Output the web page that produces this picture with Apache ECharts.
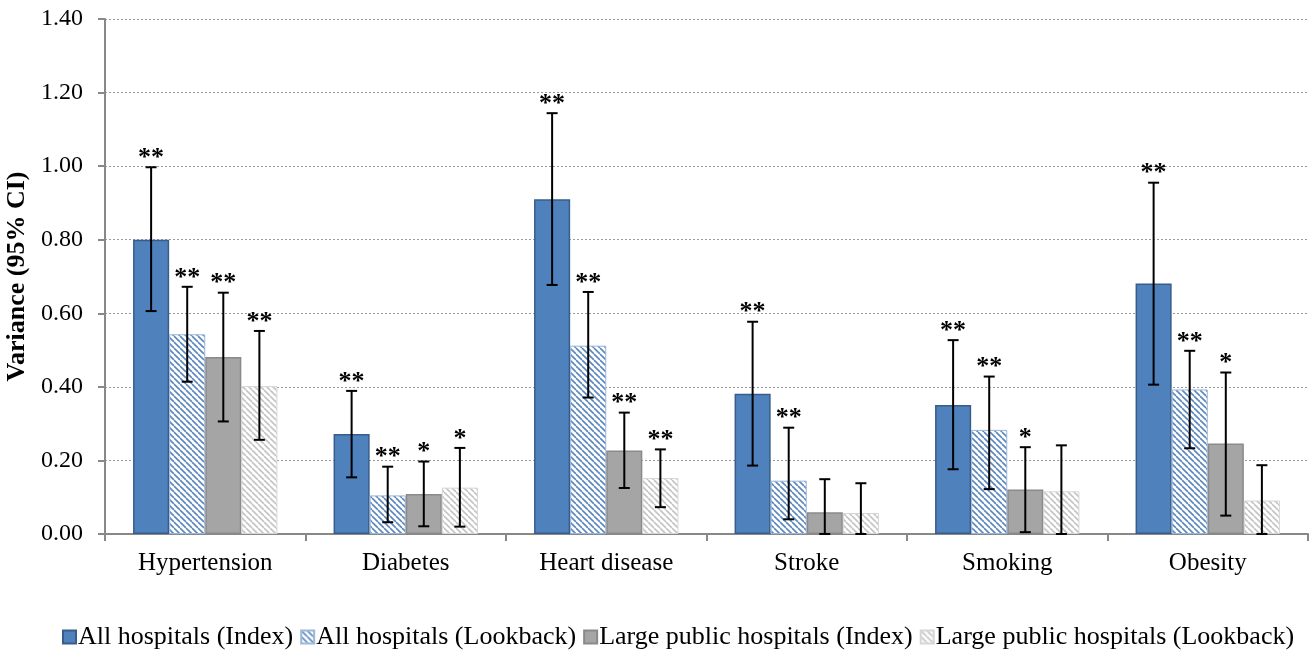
<!DOCTYPE html>
<html><head><meta charset="utf-8">
<script src="https://cdn.jsdelivr.net/npm/echarts@6/dist/echarts.min.js"></script>
<style>html,body{margin:0;padding:0;background:#fff}#c{width:1310px;height:655px}</style>
</head><body><div id="c"></div>
<script>
const categories = ['Hypertension','Diabetes','Heart disease','Stroke','Smoking','Obesity'];
const seriesNames = ['All hospitals (Index)','All hospitals (Lookback)','Large public hospitals (Index)','Large public hospitals (Lookback)'];
const allIndex = [0.80, 0.272, 0.91, 0.381, 0.351, 0.681];
const allIndexLow = [0.606, 0.154, 0.677, 0.186, 0.176, 0.406];
const allIndexHigh = [0.997, 0.389, 1.144, 0.577, 0.527, 0.955];
const allIndexSig = ['**','**','**','**','**','**'];
const allLook = [0.543, 0.105, 0.512, 0.145, 0.283, 0.393];
const allLookLow = [0.414, 0.032, 0.371, 0.040, 0.122, 0.233];
const allLookHigh = [0.672, 0.183, 0.658, 0.289, 0.428, 0.498];
const allLookSig = ['**','**','**','**','**','**'];
const largeIndex = [0.481, 0.109, 0.227, 0.059, 0.121, 0.246];
const largeIndexLow = [0.306, 0.021, 0.125, 0.0, 0.005, 0.050];
const largeIndexHigh = [0.656, 0.197, 0.330, 0.149, 0.236, 0.439];
const largeIndexSig = ['**','*','**','','*','*'];
const largeLook = [0.402, 0.126, 0.152, 0.057, 0.116, 0.091];
const largeLookLow = [0.256, 0.020, 0.073, 0.0, 0.0, 0.0];
const largeLookHigh = [0.552, 0.234, 0.230, 0.138, 0.241, 0.187];
const largeLookSig = ['**','*','**','','',''];
const yTicks = ['0.00','0.20','0.40','0.60','0.80','1.00','1.20','1.40'];

function stripes(color){
  const c = document.createElement('canvas');
  c.width = 6; c.height = 6;
  const g = c.getContext('2d');
  g.fillStyle = '#fff'; g.fillRect(0,0,6,6);
  g.strokeStyle = color; g.lineWidth = 1.6;
  for (let k=-6;k<=6;k+=6){
    g.beginPath(); g.moveTo(k,0); g.lineTo(k+6,6); g.stroke();
  }
  return c;
}
const font = '"Liberation Serif","Times New Roman",serif';
const styles = [
  {color:'#4F81BD', borderColor:'#385D8A', borderWidth:1.5},
  {color:{image:stripes('#5B87BE'),repeat:'repeat'}, borderColor:'#9DB7D8', borderWidth:1},
  {color:'#A5A5A5', borderColor:'#8A8A8A', borderWidth:1.5},
  {color:{image:stripes('#C4C4C4'),repeat:'repeat'}, borderColor:'#D6D6D6', borderWidth:1}
];
const vals = [allIndex, allLook, largeIndex, largeLook];
const lows = [allIndexLow, allLookLow, largeIndexLow, largeLookLow];
const highs = [allIndexHigh, allLookHigh, largeIndexHigh, largeLookHigh];
const sigs = [allIndexSig, allLookSig, largeIndexSig, largeLookSig];
const GAP = 0.28;

const series = [];
for (let s=0;s<4;s++){
  series.push({name:seriesNames[s], type:'bar', data:vals[s], itemStyle:styles[s],
    barGap:'0%', barCategoryGap:(GAP*100)+'%', z:2});
}
for (let s=0;s<4;s++){
  const data = categories.map((c,i)=>[i, lows[s][i], highs[s][i], sigs[s][i]]);
  series.push({type:'custom', name:'err'+s, z:5,
    data:data,
    renderItem:(params, api)=>{
      const i = api.value(0);
      const lo = api.coord([i, api.value(1)]);
      const hi = api.coord([i, api.value(2)]);
      const band = api.size([1,0])[0];
      const bw = band*(1-GAP)/4;
      const x = lo[0] - 2*bw + (s+0.5)*bw;
      const cap = 5.5;
      const st = {stroke:'#000', lineWidth:2};
      const children = [
        {type:'line', shape:{x1:x,y1:lo[1],x2:x,y2:hi[1]}, style:st},
        {type:'line', shape:{x1:x-cap,y1:hi[1],x2:x+cap,y2:hi[1]}, style:st},
        {type:'line', shape:{x1:x-cap,y1:lo[1],x2:x+cap,y2:lo[1]}, style:st}
      ];
      const lab = data[params.dataIndex][3];
      if (lab) children.push({type:'text', x:x, y:hi[1]+4, style:{text:lab, fill:'#000',
        font:'bold 26px '+font, align:'center', verticalAlign:'bottom'}});
      return {type:'group', children:children};
    }});
}

const chart = echarts.init(document.getElementById('c'));
chart.setOption({
  animation:false,
  textStyle:{fontFamily:font},
  grid:{left:105, right:2, top:19, bottom:121, containLabel:false, outerBoundsMode:'none'},
  legend:{data:seriesNames, bottom:0, left:57, icon:'rect', itemWidth:13, itemHeight:13, itemGap:7,
    textStyle:{fontFamily:font, fontSize:26, color:'#000', padding:[0,0,0,-3]}, selectedMode:false},
  xAxis:{type:'category', data:categories,
    axisLine:{lineStyle:{color:'#888', width:2}},
    axisTick:{show:true, length:7, lineStyle:{color:'#888', width:2}},
    axisLabel:{fontFamily:font, fontSize:25, color:'#000', margin:17}},
  yAxis:{type:'value', min:0, max:1.4, interval:0.2,
    name:'Variance (95% CI)', nameLocation:'middle', nameGap:74, nameRotate:90,
    nameTextStyle:{fontFamily:font, fontSize:26, fontWeight:'bold', color:'#000'},
    axisLine:{show:true, lineStyle:{color:'#888', width:2}},
    axisTick:{show:true, inside:false, length:7, lineStyle:{color:'#888', width:2}},
    axisLabel:{fontFamily:font, fontSize:24, color:'#000', margin:22,
      formatter:(v)=>yTicks[Math.round(v/0.2)]},
    splitLine:{lineStyle:{color:'#999', type:[2,2], width:1}}},
  series:series
});
</script></body></html>
